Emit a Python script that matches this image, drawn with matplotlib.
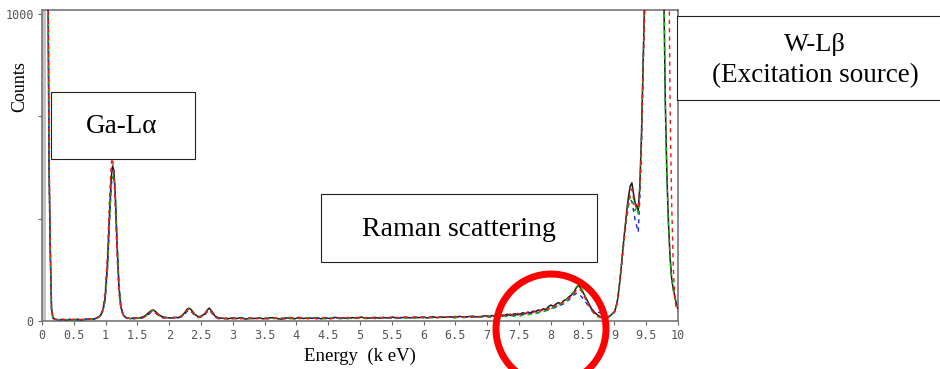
import numpy as np
import matplotlib.pyplot as plt
from matplotlib.patches import Rectangle, Ellipse

# energy axis (keV) shared by the four overlaid spectra
energy_kev = [
    # low-energy edge
    0.00, 0.05, 0.09, 0.11, 0.13, 0.15, 0.17, 0.20, 0.26, 0.32,
    0.38, 0.44, 0.50, 0.56, 0.62, 0.68, 0.74, 0.80, 0.86, 0.91,
    # Ga-La
    0.95, 0.99, 1.03, 1.06, 1.09, 1.11, 1.13, 1.15, 1.18, 1.21, 1.24, 1.28, 1.33,
    # small peaks
    1.39, 1.45, 1.51, 1.57, 1.63, 1.68, 1.72, 1.75, 1.79, 1.84,
    1.90, 1.96, 2.02, 2.08, 2.14, 2.19, 2.24, 2.28, 2.31, 2.35,
    2.40, 2.46, 2.51, 2.56, 2.60, 2.63, 2.67, 2.72, 2.78,
    # flat background
    2.85, 2.92, 2.99, 3.06, 3.13, 3.20, 3.27, 3.34, 3.41, 3.48,
    3.55, 3.62, 3.69, 3.76, 3.83, 3.90, 3.97, 4.04, 4.11, 4.18,
    4.25, 4.32, 4.39, 4.46, 4.53, 4.60, 4.67, 4.74, 4.81, 4.88,
    4.95, 5.02, 5.09, 5.16, 5.23, 5.30, 5.37, 5.44, 5.51, 5.58,
    5.65, 5.72, 5.79, 5.86, 5.93, 6.00, 6.07, 6.14, 6.21, 6.28,
    6.35, 6.42, 6.49, 6.56, 6.63, 6.70, 6.77, 6.84, 6.91, 6.98,
    # Raman region
    7.04, 7.08, 7.12, 7.16, 7.20, 7.24, 7.28, 7.32, 7.36, 7.40,
    7.44, 7.48, 7.52, 7.56, 7.60, 7.64, 7.68, 7.72, 7.76, 7.80,
    7.84, 7.88, 7.92, 7.96, 8.00, 8.04, 8.08, 8.12, 8.16, 8.20,
    8.24, 8.28, 8.32, 8.36, 8.40, 8.44, 8.48, 8.52, 8.56, 8.60,
    8.64, 8.68, 8.72, 8.76, 8.80, 8.84, 8.88, 8.92, 8.96,
    # W-Lb
    9.000, 9.025, 9.050, 9.075, 9.100, 9.125, 9.150, 9.175, 9.200, 9.225,
    9.250, 9.275, 9.300, 9.325, 9.350, 9.375, 9.400, 9.425, 9.450, 9.475,
    9.500, 9.525, 9.550, 9.575, 9.600, 9.625, 9.650, 9.675, 9.700, 9.725,
    9.750, 9.775, 9.800, 9.825, 9.850, 9.875, 9.900, 9.925, 9.950, 9.975,
    10.000,
]

counts_black = [
    3000, 3000, 1300, 520, 230, 40, 12, 6, 4, 5,
    3, 5, 4, 6, 3, 5, 7, 5, 9, 16,
    30, 70, 190, 340, 470, 505, 490, 420, 250, 110, 45, 18, 10,
    8, 10, 9, 12, 18, 28, 34, 36, 30, 20,
    13, 11, 10, 12, 11, 16, 26, 38, 42, 36,
    22, 14, 16, 24, 36, 42, 32, 16, 10,
    9, 7, 10, 8, 11, 6, 9, 8, 10, 7,
    9, 11, 8, 6, 10, 9, 7, 12, 8, 10,
    9, 11, 7, 10, 8, 12, 9, 10, 8, 11,
    9, 13, 8, 10, 12, 9, 11, 10, 13, 9,
    11, 12, 10, 13, 11, 12, 10, 14, 11, 13,
    12, 14, 11, 15, 13, 14, 16, 13, 15, 17,
    15, 18, 14, 17, 20, 16, 19, 22, 18, 21,
    24, 20, 23, 27, 24, 29, 26, 32, 30, 36,
    33, 40, 37, 46, 52, 48, 55, 60, 56, 66,
    70, 78, 84, 92, 108, 116, 104, 88, 72, 56,
    40, 30, 22, 16, 12, 10, 12, 15, 22,
    30, 45, 70, 110, 160, 215, 270, 320, 370, 410,
    440, 450, 415, 385, 375, 360, 440, 600, 830, 1050,
    1600, 3000, 3000, 3000, 3000, 3000, 3000, 3000, 3000, 3000,
    3000, 1100, 720, 480, 320, 210, 140, 105, 80, 55,
    40,
]

counts_red = [
    3000, 3000, 1400, 560, 250, 45, 10, 5, 3, 6,
    4, 3, 6, 4, 5, 4, 5, 8, 10, 18,
    34, 85, 220, 390, 515, 530, 480, 380, 210, 90, 38, 16, 9,
    9, 8, 11, 10, 16, 25, 31, 33, 28, 18,
    12, 10, 11, 9, 13, 15, 24, 35, 39, 33,
    20, 13, 14, 22, 33, 39, 28, 14, 9,
    7, 10, 8, 11, 7, 9, 10, 6, 8, 11,
    8, 9, 10, 7, 9, 12, 8, 9, 11, 7,
    10, 8, 12, 9, 7, 10, 11, 8, 12, 9,
    10, 8, 11, 12, 9, 13, 8, 11, 10, 12,
    10, 13, 9, 12, 14, 10, 12, 13, 11, 14,
    13, 11, 15, 12, 14, 16, 13, 15, 14, 16,
    14, 16, 18, 15, 19, 21, 17, 20, 23, 19,
    22, 25, 21, 26, 23, 28, 31, 27, 33, 30,
    36, 34, 41, 38, 45, 50, 47, 54, 58, 62,
    66, 74, 80, 88, 100, 106, 98, 82, 66, 50,
    36, 26, 19, 14, 11, 9, 11, 14, 20,
    28, 42, 66, 105, 155, 210, 265, 315, 360, 395,
    420, 430, 400, 380, 365, 375, 430, 580, 800, 1000,
    1500, 3000, 3000, 3000, 3000, 3000, 3000, 3000, 3000, 3000,
    3000, 3000, 3000, 3000, 1400, 700, 390, 180, 70, 40,
    30,
]

counts_green = [
    3000, 3000, 1350, 540, 240, 38, 11, 4, 5, 3,
    5, 4, 3, 5, 6, 3, 6, 6, 8, 14,
    26, 60, 165, 310, 440, 470, 475, 430, 270, 120, 50, 20, 11,
    7, 9, 8, 11, 15, 24, 32, 34, 27, 17,
    11, 12, 9, 10, 12, 14, 23, 34, 40, 34,
    19, 12, 15, 21, 34, 40, 29, 13, 8,
    8, 9, 6, 10, 9, 8, 7, 10, 9, 8,
    10, 7, 9, 11, 8, 7, 10, 9, 6, 11,
    8, 10, 9, 7, 11, 8, 10, 7, 9, 10,
    8, 11, 9, 8, 10, 11, 9, 12, 8, 10,
    12, 9, 11, 10, 12, 11, 13, 10, 12, 11,
    13, 12, 10, 13, 12, 11, 14, 12, 13, 14,
    12, 14, 13, 15, 14, 16, 15, 14, 17, 16,
    15, 18, 16, 19, 18, 20, 22, 21, 24, 26,
    28, 30, 33, 36, 40, 44, 48, 52, 56, 62,
    68, 76, 86, 96, 110, 120, 108, 90, 70, 50,
    34, 24, 16, 12, 9, 8, 10, 14, 21,
    29, 43, 68, 108, 158, 212, 262, 305, 350, 385,
    405, 400, 380, 360, 370, 350, 420, 590, 820, 1040,
    1600, 3000, 3000, 3000, 3000, 3000, 3000, 3000, 3000, 3000,
    3000, 1250, 700, 470, 310, 200, 135, 100, 75, 55,
    45,
]

counts_blue = [
    3000, 3000, 1250, 500, 220, 35, 9, 5, 4, 4,
    3, 6, 5, 3, 4, 6, 4, 7, 9, 15,
    27, 62, 170, 315, 445, 465, 470, 425, 265, 118, 48, 19, 10,
    8, 7, 10, 9, 14, 22, 29, 31, 25, 16,
    10, 9, 10, 11, 10, 13, 21, 31, 36, 30,
    18, 11, 13, 20, 30, 36, 26, 12, 7,
    8, 8, 9, 7, 10, 8, 9, 7, 10, 9,
    7, 10, 9, 8, 7, 11, 9, 8, 10, 9,
    11, 7, 10, 8, 9, 11, 7, 9, 10, 8,
    12, 9, 10, 11, 8, 10, 12, 9, 11, 10,
    9, 11, 12, 10, 11, 13, 10, 12, 11, 13,
    11, 13, 12, 14, 11, 13, 12, 15, 13, 15,
    13, 15, 14, 16, 15, 17, 16, 18, 17, 19,
    18, 20, 19, 22, 21, 24, 23, 26, 25, 28,
    30, 32, 34, 36, 39, 42, 45, 48, 52, 56,
    62, 68, 76, 84, 90, 88, 80, 70, 58, 46,
    38, 32, 30, 28, 24, 18, 14, 16, 22,
    30, 44, 69, 108, 156, 210, 258, 300, 345, 380,
    395, 390, 360, 330, 310, 290, 400, 570, 810, 1030,
    1550, 3000, 3000, 3000, 3000, 3000, 3000, 3000, 3000, 3000,
    3000, 3000, 3000, 3000, 3000, 3000, 3000, 3000, 3000, 3000,
    900,
]

x_ticks = [0, 0.5, 1, 1.5, 2, 2.5, 3, 3.5, 4, 4.5, 5, 5.5, 6, 6.5, 7, 7.5, 8, 8.5, 9, 9.5, 10]
x_tick_labels = ["0", "0.5", "1", "1.5", "2", "2.5", "3", "3.5", "4", "4.5", "5",
                 "5.5", "6", "6.5", "7", "7.5", "8", "8.5", "9", "9.5", "10"]

W, H = 940, 369
fig = plt.figure(figsize=(W / 100, H / 100), dpi=100)
ax = fig.add_axes([42 / W, 1 - 321 / H, 636 / W, 311 / H])

E = np.array(energy_kev)
ax.plot(E, counts_black, color="#1a1a1a", lw=1.1, zorder=3)
ax.plot(E, counts_blue, color="#1f1fff", lw=1.0, ls=(0, (3, 3)), zorder=4)
ax.plot(E, counts_green, color="#00c000", lw=1.0, ls=(1.5, (3, 3)), zorder=4)
ax.plot(E, counts_red, color="#ff1010", lw=1.0, ls=(3, (3, 3)), zorder=5)

ax.axvspan(0, 0.06, color="#c4c4c4", zorder=1, lw=0)
ax.set_xlim(0, 10)
ax.set_ylim(0, 1013)

ax.set_xticks(x_ticks)
ax.set_xticklabels(x_tick_labels)
ax.set_yticks([0, 333, 667, 1000])
ax.set_yticklabels(["0", "", "", "1000"])
ax.tick_params(direction="out", length=3, width=0.8, color="#666666",
               labelsize=8.5, labelcolor="#555555", pad=3)
for lab in ax.get_xticklabels() + ax.get_yticklabels():
    lab.set_family("DejaVu Sans Mono")
for s in ax.spines.values():
    s.set_color("#777777")
    s.set_linewidth(1.2)

serif = "Liberation Serif"
fig.text(20 / W, 1 - 87 / H, "Counts", rotation=90, ha="center", va="center",
         family=serif, fontsize=13)
fig.text(360 / W, 1 - 356 / H, "Energy  (k eV)", ha="center", va="center",
         family=serif, fontsize=13.5)

# annotation boxes (pixel boxes: x0, y0_top, x1, y1_bottom)
boxes = [(51, 92, 195, 159), (321, 194, 597, 262), (677, 16, 948, 100)]
for x0, y0, x1, y1 in boxes:
    fig.add_artist(Rectangle((x0 / W, 1 - y1 / H), (x1 - x0) / W, (y1 - y0) / H,
                             transform=fig.transFigure, fill=True, fc="white",
                             ec="#222222", lw=0.8, zorder=10))
fig.text(122 / W, 1 - 126 / H, "Ga-Lα", ha="center", va="center", family=serif,
         fontsize=19.5, zorder=11)
fig.text(459 / W, 1 - 229 / H, "Raman scattering", ha="center", va="center",
         family=serif, fontsize=20, zorder=11)
fig.text(815 / W, 1 - 45 / H, "W-Lβ", ha="center", va="center", family=serif,
         fontsize=19, zorder=11)
fig.text(815 / W, 1 - 76 / H, "(Excitation source)", ha="center", va="center",
         family=serif, fontsize=19.5, zorder=11)

fig.add_artist(Ellipse((551 / W, 1 - 329 / H), 110 / W, 110 / H,
                       transform=fig.transFigure, fill=False, ec="#ff0000",
                       lw=5, zorder=12))

fig.savefig("out.png", dpi=100)
